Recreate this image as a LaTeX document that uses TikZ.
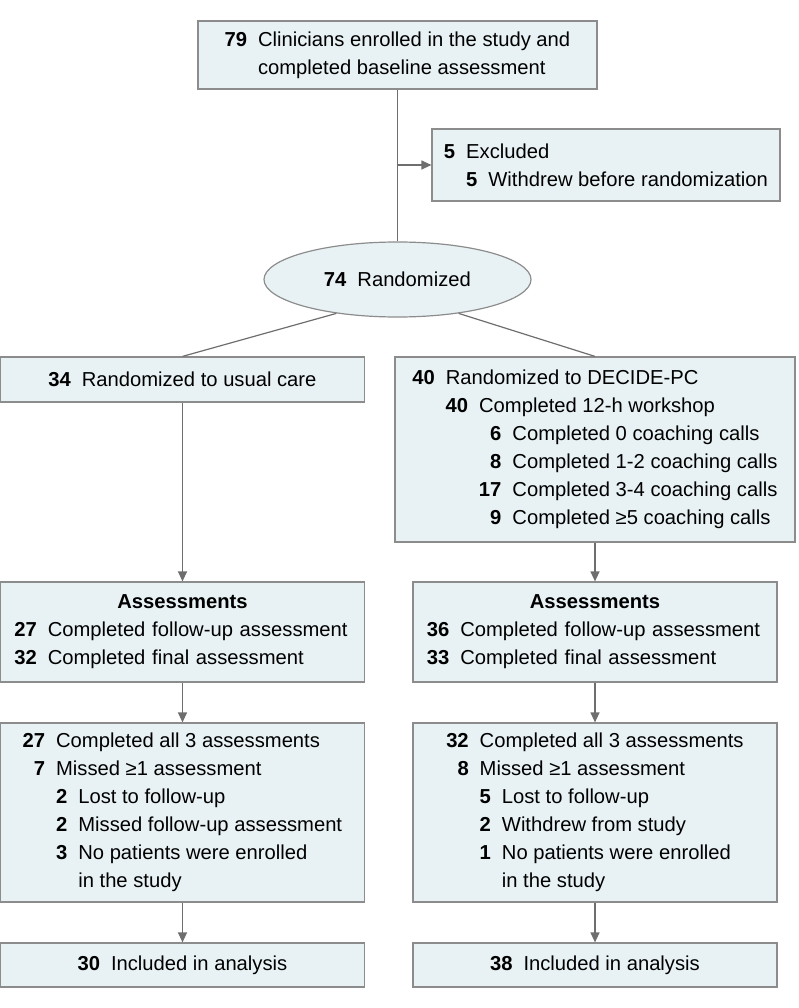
\documentclass[tikz,border=0pt]{standalone}
\usepackage{fontspec}
\setmainfont{Liberation Sans}
\usetikzlibrary{arrows.meta,shapes.geometric}
\definecolor{boxfill}{HTML}{E8F2F4}
\definecolor{boxline}{HTML}{8C8C8C}
\definecolor{flowline}{HTML}{6E6E6E}
\newcommand{\nb}[3][0pt]{\hspace*{#1}\makebox[#2][r]{\bfseries #3}\hspace{11pt}}

\begin{document}
\begin{tikzpicture}[x=1pt,y=-1pt,
	stage/.style={draw=boxline,fill=boxfill,line width=1.2pt,inner sep=0pt,align=left,
		font=\fontsize{20.2}{28}\selectfont},
	col/.style={stage,minimum width=364pt},
	flow/.style={draw=flowline,line width=1.2pt},
	arr/.style={flow,-{Triangle[length=10pt,width=9pt]}}]
	
	\useasboundingbox (0,0) rectangle (798,1008);
	
	\node[stage,minimum width=399pt,minimum height=68pt] (enrol) at (397.5,55)
		{\nb{22.3pt}{79}Clinicians enrolled in the study and\\
		 \nb{22.3pt}{}completed baseline assessment};
	\node[stage,minimum width=348pt,minimum height=72pt] (excl) at (606,165)
		{\nb{11.2pt}{5}Excluded\\
		 \nb[22.2pt]{11.2pt}{5}Withdrew before randomization};
	\node[stage,ellipse,minimum width=267pt,minimum height=75pt] (rand) at (397.5,279.5)
		{\nb{22.3pt}{74}Randomized};
	
	\node[col,minimum height=45pt] (usual) at (182.5,379.5)
		{\nb{22.3pt}{34}Randomized to usual care};
	\node[stage,minimum width=400pt,minimum height=185pt] (decide) at (595,449.5)
		{\nb{22.3pt}{40}Randomized to DECIDE-PC\\
		 \nb[33.3pt]{22.3pt}{40}Completed 12-h workshop\\
		 \nb[66.6pt]{22.3pt}{6}Completed 0 coaching calls\\
		 \nb[66.6pt]{22.3pt}{8}Completed 1-2 coaching calls\\
		 \nb[66.6pt]{22.3pt}{17}Completed 3-4 coaching calls\\
		 \nb[66.6pt]{22.3pt}{9}Completed ≥5 coaching calls};
	
	\node[col,minimum height=100pt,text width=336pt] (assessL) at (182.5,632)
		{\makebox[\linewidth]{\bfseries Assessments}\\
		 \nb{22.3pt}{27}Completed follow-up assessment\\
		 \nb{22.3pt}{32}Completed final assessment};
	\node[col,minimum height=100pt,text width=336pt] (assessR) at (595,632)
		{\makebox[\linewidth]{\bfseries Assessments}\\
		 \nb{22.3pt}{36}Completed follow-up assessment\\
		 \nb{22.3pt}{33}Completed final assessment};
	
	\node[col,minimum height=179pt] (compL) at (182.5,812.5)
		{\nb{22.3pt}{27}Completed all 3 assessments\\
		 \nb{22.3pt}{7}Missed ≥1 assessment\\
		 \nb[33.3pt]{11.2pt}{2}Lost to follow-up\\
		 \nb[33.3pt]{11.2pt}{2}Missed follow-up assessment\\
		 \nb[33.3pt]{11.2pt}{3}No patients were enrolled\\
		 \nb[33.3pt]{11.2pt}{}in the study};
	\node[col,minimum height=179pt] (compR) at (595,812.5)
		{\nb{22.3pt}{32}Completed all 3 assessments\\
		 \nb{22.3pt}{8}Missed ≥1 assessment\\
		 \nb[33.3pt]{11.2pt}{5}Lost to follow-up\\
		 \nb[33.3pt]{11.2pt}{2}Withdrew from study\\
		 \nb[33.3pt]{11.2pt}{1}No patients were enrolled\\
		 \nb[33.3pt]{11.2pt}{}in the study};
	
	\node[col,minimum height=44pt] (finL) at (182.5,965)
		{\nb{22.3pt}{30}Included in analysis};
	\node[col,minimum height=44pt] (finR) at (595,965)
		{\nb{22.3pt}{38}Included in analysis};
	
	\coordinate (split) at (enrol.south |- excl.west);
	\draw[flow] (enrol) -- (rand);
	\draw[arr] (split) -- (excl);
	\draw[flow] (rand.209) -- (usual.north);
	\draw[flow] (rand.331) -- (decide.north);
	
	\draw[arr] (usual) -- (assessL);
	\draw[arr] (decide) -- (assessR);
	\draw[arr] (assessL) -- (compL);
	\draw[arr] (assessR) -- (compR);
	\draw[arr] (compL) -- (finL);
	\draw[arr] (compR) -- (finR);
	
\end{tikzpicture}
\end{document}
